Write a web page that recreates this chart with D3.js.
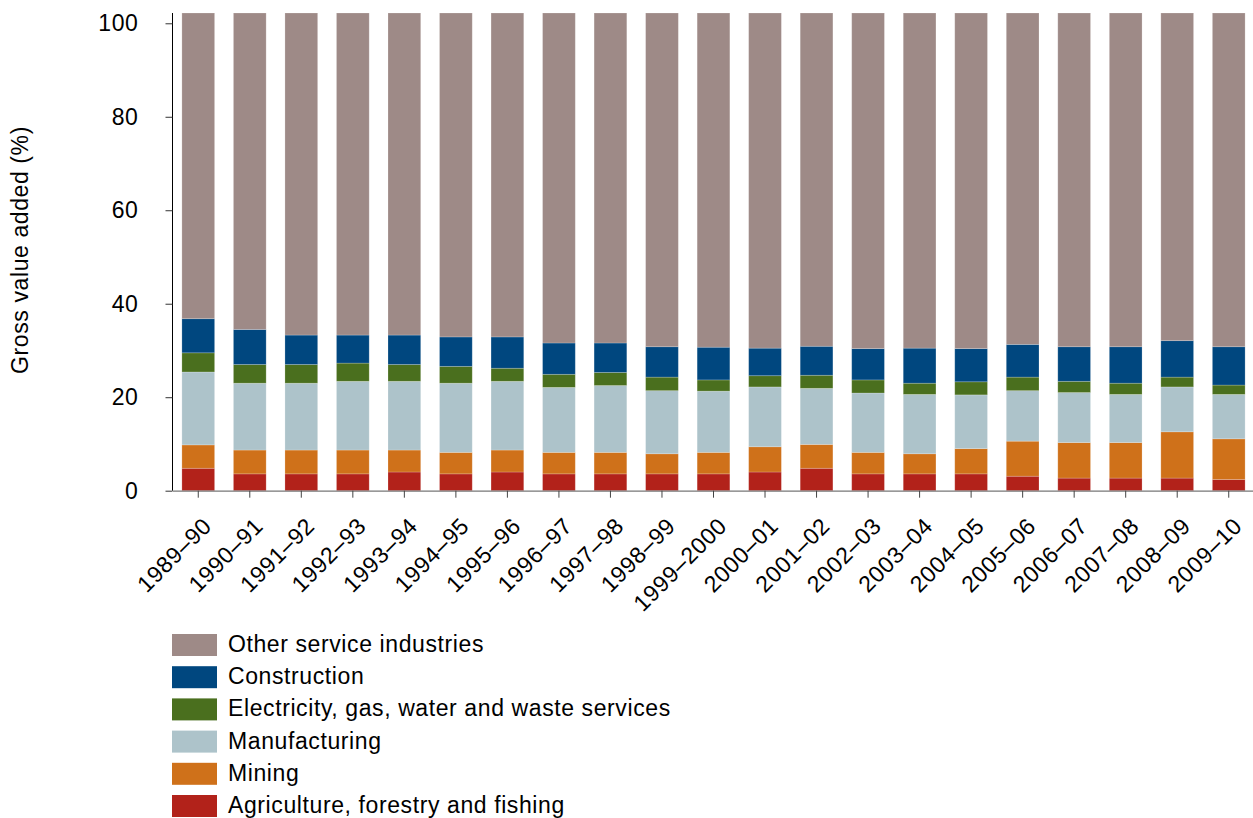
<!DOCTYPE html>
<html>
<head>
<meta charset="utf-8">
<script src="https://cdn.jsdelivr.net/npm/d3@7"></script>
<style>
  html, body { margin: 0; padding: 0; background: #fff; }
  svg { display: block; font-family: "Liberation Sans", Arial, sans-serif; }
</style>
</head>
<body>
<svg id="chart" width="1253" height="818"></svg>
<script>
const categories = ["1989–90","1990–91","1991–92","1992–93","1993–94","1994–95","1995–96","1996–97","1997–98","1998–99","1999–2000","2000–01","2001–02","2002–03","2003–04","2004–05","2005–06","2006–07","2007–08","2008–09","2009–10"];

const agriculture   = [4.8, 3.6, 3.6, 3.6, 4.0, 3.6, 4.0, 3.6, 3.6, 3.6, 3.6, 4.0, 4.8, 3.6, 3.6, 3.6, 3.1, 2.7, 2.7, 2.7, 2.4];
const mining        = [5.0, 5.1, 5.1, 5.1, 4.7, 4.6, 4.7, 4.6, 4.6, 4.3, 4.6, 5.4, 5.1, 4.6, 4.3, 5.4, 7.5, 7.6, 7.6, 9.9, 8.7];
const manufacturing = [15.6, 14.3, 14.3, 14.7, 14.7, 14.8, 14.7, 13.9, 14.3, 13.5, 13.1, 12.8, 12.0, 12.7, 12.7, 11.5, 10.8, 10.7, 10.3, 9.6, 9.5];
const electricity   = [4.1, 4.0, 4.0, 3.9, 3.6, 3.6, 2.8, 2.8, 2.8, 2.9, 2.4, 2.4, 2.8, 2.8, 2.4, 2.8, 2.9, 2.4, 2.4, 2.1, 2.0];
const construction  = [7.3, 7.5, 6.3, 6.0, 6.3, 6.3, 6.7, 6.7, 6.3, 6.5, 7.0, 5.9, 6.2, 6.7, 7.5, 7.1, 7.0, 7.4, 7.8, 7.8, 8.2];
const otherServices = [65.4, 67.7, 68.9, 68.9, 68.9, 69.3, 69.3, 70.6, 70.6, 71.4, 71.5, 71.7, 71.3, 71.8, 71.7, 71.8, 70.9, 71.4, 71.4, 70.1, 71.4];

const yTicks = [0, 20, 40, 60, 80, 100];
const yTitle = "Gross value added (%)";

const seriesNames = ["Agriculture, forestry and fishing", "Mining", "Manufacturing", "Electricity, gas, water and waste services", "Construction", "Other service industries"];
const seriesValues = [agriculture, mining, manufacturing, electricity, construction, otherServices];
const seriesColors = ["#B2221A", "#CF711A", "#ADC3CA", "#4A6F1E", "#00477F", "#9E8A87"];

const FONT = 23, LS = 0.6;

// build table for d3.stack
const table = categories.map((c, i) => {
  const row = { cat: c };
  seriesNames.forEach((s, j) => { row[s] = seriesValues[j][i]; });
  return row;
});

const svg = d3.select("#chart");
const x0 = 172.5, x1 = 1254.5, yBottom = 490.7, yTop = 13;

const x = d3.scaleBand().domain(categories).range([x0, x1]).paddingInner(0.365).paddingOuter(0.1825);
const y = d3.scaleLinear().domain([0, 102.2]).range([yBottom, yTop]);

const stacked = d3.stack().keys(seriesNames)(table);

svg.append("g").selectAll("g.series")
  .data(stacked)
  .join("g")
  .attr("class", "series")
  .attr("fill", (d, i) => seriesColors[i])
  .selectAll("rect")
  .data(d => d)
  .join("rect")
  .attr("x", d => x(d.data.cat))
  .attr("width", x.bandwidth())
  .attr("y", d => y(d[1]))
  .attr("height", d => y(d[0]) - y(d[1]))
  .attr("stroke", "rgba(255,255,255,0.25)")
  .attr("stroke-width", 0.8);

// y axis
const yAxis = d3.axisLeft(y).tickValues(yTicks).tickSize(7).tickPadding(27).tickFormat(d3.format("d"));
const ya = svg.append("g").attr("transform", `translate(${x0},0)`).call(yAxis);
ya.select(".domain").attr("stroke", "#000").attr("d", `M0,${yTop}V${yBottom}`);
ya.selectAll(".tick line").attr("stroke", "#333");
ya.selectAll(".tick text").attr("font-size", FONT).attr("letter-spacing", LS).attr("fill", "#000")
  .attr("font-family", "Liberation Sans, Arial, sans-serif");

// x axis
const xAxis = d3.axisBottom(x).tickSize(7).tickSizeOuter(0).tickPadding(0);
const xa = svg.append("g").attr("transform", `translate(0,${yBottom})`).call(xAxis);
xa.select(".domain").attr("stroke", "#777").attr("stroke-width", 1.3);
xa.selectAll(".tick line").attr("stroke", "#444");
xa.selectAll(".tick text")
  .attr("font-size", FONT)
  .attr("letter-spacing", LS)
  .attr("fill", "#000")
  .attr("font-family", "Liberation Sans, Arial, sans-serif")
  .attr("text-anchor", "end")
  .attr("dy", "0.35em")
  .attr("y", 0)
  .attr("transform", "translate(9,31) rotate(-45)");

// y title
svg.append("text")
  .attr("transform", "translate(28,250) rotate(-90)")
  .attr("text-anchor", "middle")
  .attr("font-size", FONT)
  .attr("letter-spacing", LS)
  .attr("fill", "#000")
  .text(yTitle);

// legend (reverse order: Other on top)
const legendOrder = seriesNames.map((n, i) => i).reverse();
const lg = svg.append("g");
legendOrder.forEach((idx, k) => {
  const yy = 634 + k * 32.2;
  lg.append("rect").attr("x", 172).attr("y", yy).attr("width", 45).attr("height", 22).attr("fill", seriesColors[idx]);
  lg.append("text").attr("x", 228).attr("y", yy + 10).attr("dy", "0.35em")
    .attr("font-size", FONT).attr("letter-spacing", LS).attr("fill", "#000").text(seriesNames[idx]);
});
</script>
</body>
</html>
